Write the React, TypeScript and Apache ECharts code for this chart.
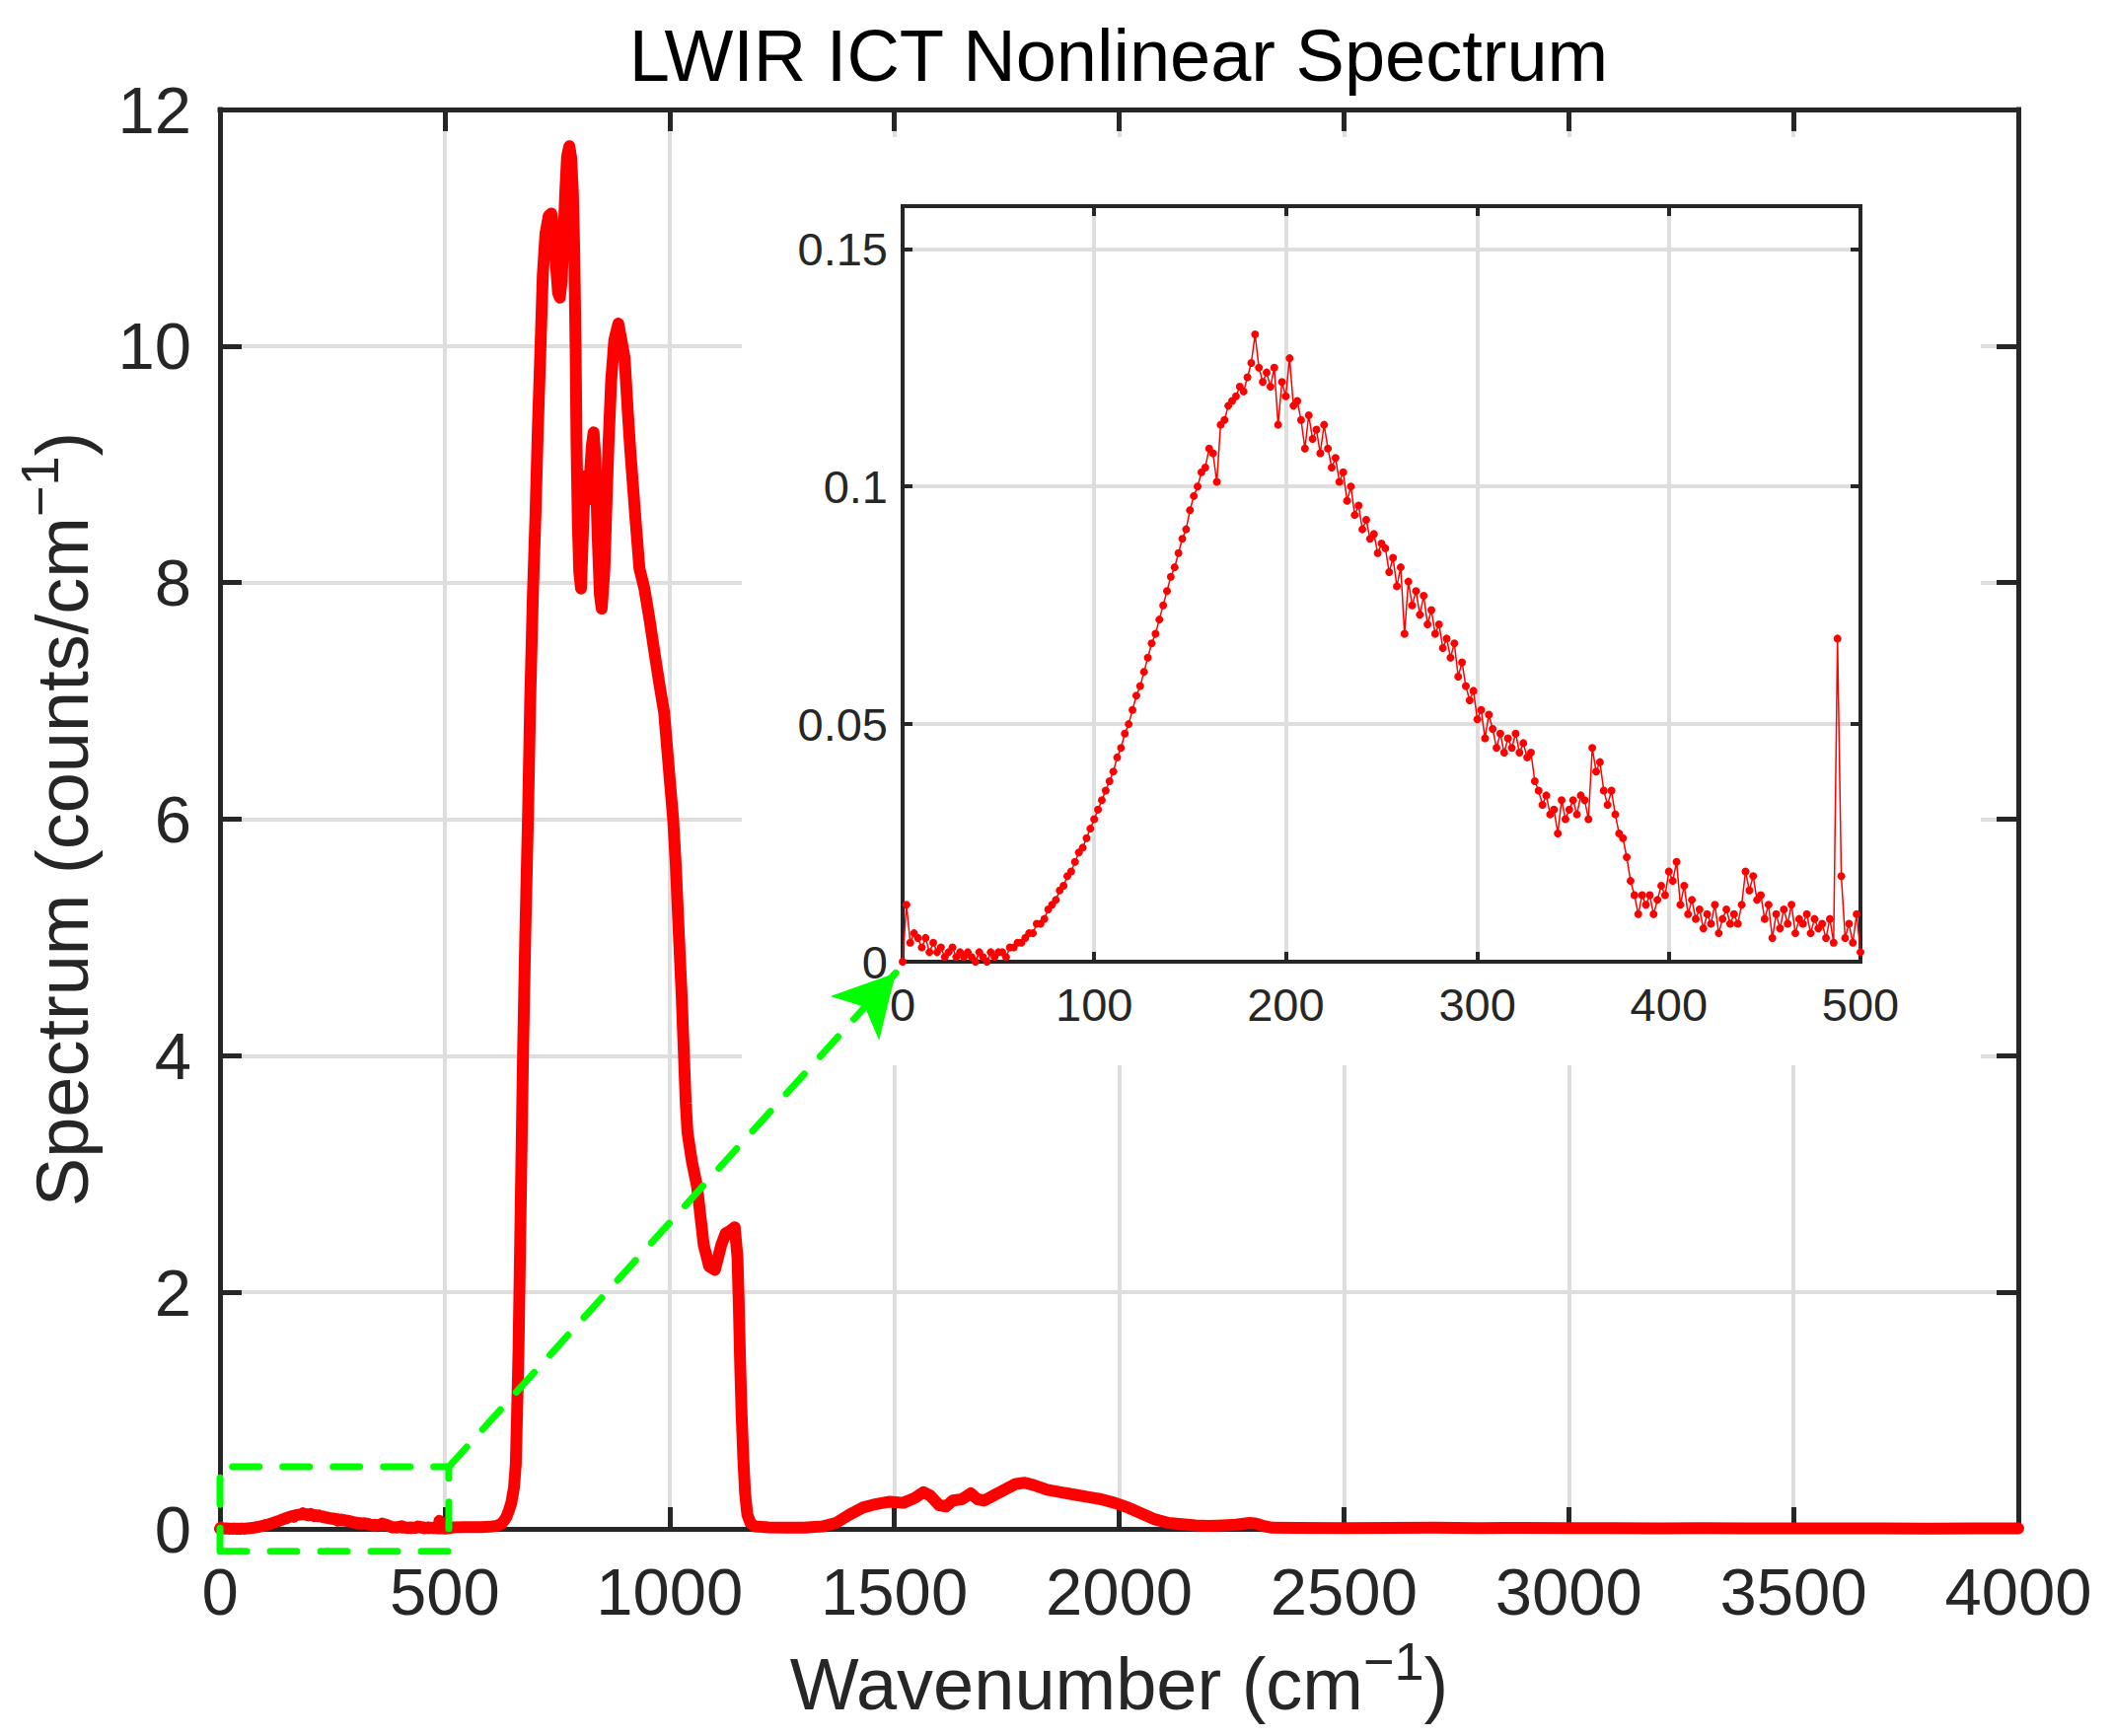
import React, { useEffect, useRef } from "react";
import * as echarts from "echarts";

// inset: spectrum below 500 cm-1, sampled every 2 cm-1
const insetStart = 0;
const insetStep = 2;
const insetSpectrum = [
  0.0, 0.012, 0.004, 0.006, 0.005, 0.003, 0.005, 0.002, 0.004, 0.002,
  0.003, 0.001, 0.002, 0.003, 0.001, 0.002, 0.001, 0.002, 0.001, 0.0,
  0.002, 0.001, 0.0, 0.002, 0.001, 0.002,
  0.002, 0.001, 0.003, 0.003, 0.004, 0.004, 0.005, 0.006, 0.006, 0.008,
  0.008, 0.009, 0.011, 0.012, 0.013, 0.015, 0.016, 0.018, 0.019, 0.021,
  0.023, 0.024, 0.026, 0.028, 0.03, 0.032, 0.034, 0.036, 0.038, 0.04,
  0.043, 0.045, 0.048, 0.05, 0.053, 0.056, 0.058, 0.061, 0.064, 0.067,
  0.069, 0.072, 0.075, 0.078, 0.081, 0.083, 0.086, 0.089, 0.091, 0.095,
  0.098, 0.1, 0.103, 0.104, 0.108, 0.107, 0.101, 0.113, 0.114, 0.117,
  0.118, 0.119, 0.121, 0.12, 0.123, 0.126, 0.132, 0.125, 0.122, 0.124,
  0.121, 0.125, 0.113, 0.122, 0.119, 0.127, 0.117, 0.118, 0.114, 0.108,
  0.115, 0.11, 0.112, 0.107, 0.113, 0.108, 0.104, 0.106, 0.101, 0.103,
  0.097, 0.1, 0.094, 0.096, 0.091, 0.093, 0.089, 0.09, 0.086, 0.088,
  0.087, 0.082, 0.085, 0.079, 0.083, 0.069, 0.08, 0.075, 0.078, 0.073,
  0.077, 0.071, 0.074, 0.069, 0.071, 0.066, 0.068, 0.064, 0.067, 0.06,
  0.063, 0.058, 0.055, 0.057, 0.051, 0.053, 0.047, 0.052, 0.049, 0.045,
  0.048, 0.044, 0.047, 0.045, 0.048, 0.044, 0.046, 0.043, 0.044, 0.038,
  0.036, 0.033, 0.035, 0.031, 0.032, 0.027, 0.034, 0.03, 0.032, 0.034,
  0.031, 0.035, 0.034, 0.03, 0.045, 0.04, 0.042, 0.036, 0.033, 0.036,
  0.031, 0.027, 0.026, 0.022, 0.017, 0.014, 0.01, 0.014, 0.012, 0.014,
  0.01, 0.013, 0.016, 0.014, 0.019, 0.017, 0.021, 0.012, 0.016, 0.01,
  0.013, 0.009, 0.011, 0.007, 0.01, 0.008, 0.012, 0.006, 0.009, 0.011,
  0.008, 0.01, 0.008, 0.012, 0.019, 0.015, 0.018, 0.013, 0.014, 0.009,
  0.012, 0.005, 0.01, 0.007, 0.011, 0.008, 0.012, 0.006, 0.009, 0.008,
  0.01, 0.006, 0.009, 0.007, 0.008, 0.005, 0.009, 0.004, 0.068, 0.018,
  0.005, 0.008, 0.004, 0.01, 0.002,
];

// rest of the spectrum above 500 cm-1: [wavenumber, counts/cm-1]
const mainTail = [
  [520, 0.012], [540, 0.014], [560, 0.015], [580, 0.015], [600, 0.018],
  [615, 0.025], [625, 0.04], [632, 0.07], [637, 0.1], [643, 0.16],
  [648, 0.22], [654, 0.35], [658, 0.55], [661, 1.0], [664, 1.5],
  [666, 2.0], [670, 3.0], [674, 4.0], [679, 5.0], [685, 6.0],
  [690, 7.0], [696, 7.9], [702, 8.6], [707, 9.3], [713, 10.0],
  [718, 10.6], [724, 10.95], [731, 11.1], [737, 11.12], [742, 11.0],
  [747, 10.7], [752, 10.45], [756, 10.41], [760, 10.55], [764, 10.9],
  [768, 11.3], [772, 11.6], [777, 11.69], [781, 11.6], [785, 11.3],
  [788, 10.8], [791, 10.0], [793, 9.2], [796, 8.5], [799, 8.1],
  [803, 7.95], [808, 8.5], [812, 8.9], [817, 8.7], [822, 8.85],
  [827, 9.15], [831, 9.27], [835, 9.05], [840, 8.4], [845, 7.9],
  [849, 7.78], [855, 8.1], [860, 8.7], [864, 9.15], [870, 9.7],
  [877, 10.05], [886, 10.19], [893, 10.05], [900, 9.9], [907, 9.45],
  [913, 9.1], [919, 8.8], [925, 8.5], [933, 8.12], [944, 7.95],
  [955, 7.7], [966, 7.42], [977, 7.15], [988, 6.9], [1001, 6.31],
  [1008, 6.0], [1014, 5.6], [1021, 5.0], [1027, 4.5], [1032, 4.0],
  [1036, 3.6], [1040, 3.35], [1050, 3.1], [1061, 2.9], [1070, 2.6],
  [1076, 2.4], [1088, 2.22], [1101, 2.19], [1115, 2.4], [1125, 2.5],
  [1135, 2.52], [1145, 2.55], [1151, 2.3], [1154, 1.9], [1157, 1.4],
  [1160, 1.0], [1164, 0.6], [1168, 0.3], [1173, 0.12], [1180, 0.05],
  [1190, 0.02], [1220, 0.012], [1260, 0.01], [1300, 0.01], [1340, 0.02],
  [1370, 0.05], [1400, 0.12], [1430, 0.18], [1460, 0.21], [1490, 0.23],
  [1520, 0.22], [1545, 0.26], [1565, 0.31], [1580, 0.28], [1600, 0.2],
  [1615, 0.19], [1630, 0.24], [1650, 0.25], [1670, 0.3], [1685, 0.25],
  [1700, 0.24], [1720, 0.28], [1745, 0.33], [1770, 0.38], [1790, 0.39],
  [1810, 0.37], [1840, 0.33], [1870, 0.31], [1900, 0.29], [1930, 0.27],
  [1960, 0.25], [1990, 0.22], [2020, 0.18], [2050, 0.13], [2080, 0.08],
  [2110, 0.05], [2140, 0.04], [2170, 0.03], [2200, 0.025], [2230, 0.03],
  [2260, 0.035], [2290, 0.05], [2305, 0.045], [2320, 0.025], [2340, 0.01],
  [2400, 0.008], [2500, 0.006], [2600, 0.009], [2700, 0.01], [2800, 0.007],
  [2900, 0.008], [3000, 0.006], [3100, 0.007], [3200, 0.005], [3300, 0.006],
  [3400, 0.004], [3500, 0.005], [3600, 0.004], [3700, 0.005], [3800, 0.003],
  [3900, 0.004], [4000, 0.004],
];

const mainXTicks = [0, 500, 1000, 1500, 2000, 2500, 3000, 3500, 4000];
const mainYTicks = [0, 2, 4, 6, 8, 10, 12];
const insetXTicks = [0, 100, 200, 300, 400, 500];
const insetYTicks = [0, 0.05, 0.1, 0.15];
const insetYMax = 0.159;

// green zoom box (main data coords) and the arrow tip at the inset origin
const zoomBox = { x0: 0, x1: 509, y0: -0.19, y1: 0.525 };
const arrowEnd = [1503, 4.7];

const FONT = '"Liberation Sans", Arial, Helvetica, sans-serif';
const INK = "#262626";
const GRID = "#dedede";
const RED = "#ff0000";
const GREEN = "#00ff00";

const span = (t: number[]) => ({ min: t[0], max: t[t.length - 1], interval: t[1] - t[0] });
const plain = (v: number) => (v === 0 ? "0" : String(+v.toFixed(2)));

const frameAxis = (o: any) => ({
  type: "value",
  gridIndex: o.grid,
  position: o.position,
  min: o.min,
  max: o.max,
  interval: o.interval,
  z: o.z,
  axisLine: { show: true, onZero: false, lineStyle: { color: INK, width: o.lw, cap: "square" } },
  axisTick: { show: true, inside: true, length: o.tick, lineStyle: { color: INK, width: o.lw } },
  axisLabel: o.labels
    ? {
        show: true,
        fontSize: o.fontSize,
        fontFamily: FONT,
        color: INK,
        margin: o.margin,
        showMinLabel: true,
        showMaxLabel: o.showMax !== false,
        formatter: plain,
      }
    : { show: false },
  splitLine: { show: !!o.labels, lineStyle: { color: GRID, width: o.gw } },
});

const nameRich = {
  t: { fontSize: 74, lineHeight: 100, fontFamily: FONT, color: INK },
  s: { fontSize: 54, lineHeight: 46, verticalAlign: "top", fontFamily: FONT, color: INK },
};

const App: React.FC = () => {
  const chartRef = useRef<HTMLDivElement | null>(null);

  useEffect(() => {
    if (!chartRef.current) return;
    const chart = echarts.init(chartRef.current, null, { renderer: "svg" });

    const insetData = insetSpectrum.map((v, i) => [insetStart + i * insetStep, v]);
    const mainData = insetData.concat(mainTail);
    const { x0, x1, y0, y1 } = zoomBox;
    const boxPath = [[x0, y0], [x1, y0], [x1, y1], [x0, y1], [x0, y0]];

    const mx = span(mainXTicks);
    const my = span(mainYTicks);
    const ix = span(insetXTicks);
    const iy = { min: insetYTicks[0], max: insetYMax, interval: insetYTicks[1] - insetYTicks[0] };

    const mainCommon = { lw: 5, tick: 22, gw: 4, z: 0 };
    const insetCommon = { lw: 4, tick: 10, gw: 4, z: 5 };
    const greenDash = { color: GREEN, width: 7, type: [27, 24], cap: "round" };

    const options = {
      animation: false,
      backgroundColor: "#ffffff",
      textStyle: { fontFamily: FONT },
      grid: [
        { left: 223, top: 111, width: 1823, height: 1439, outerBoundsMode: "none", containLabel: false },
        { left: 915, top: 209, width: 971, height: 766, outerBoundsMode: "none", containLabel: false },
      ],
      xAxis: [
        {
          ...frameAxis({ grid: 0, position: "bottom", ...mx, ...mainCommon, labels: true, fontSize: 67, margin: 30 }),
          name: "{t|Wavenumber (cm}{s|\u22121}{t|)}",
          nameLocation: "middle",
          nameGap: 107,
          nameMoveOverlap: false,
          nameTextStyle: { rich: nameRich },
        },
        frameAxis({ grid: 0, position: "top", ...mx, ...mainCommon, labels: false }),
        frameAxis({ grid: 1, position: "bottom", ...ix, ...insetCommon, labels: true, fontSize: 47, margin: 20 }),
        frameAxis({ grid: 1, position: "top", ...ix, ...insetCommon, labels: false }),
      ],
      yAxis: [
        {
          ...frameAxis({ grid: 0, position: "left", ...my, ...mainCommon, labels: true, fontSize: 67, margin: 29 }),
          name: "{t|Spectrum (counts/cm}{s|\u22121}{t|)}",
          nameLocation: "middle",
          nameRotate: 90,
          nameGap: 110,
          nameMoveOverlap: false,
          nameTextStyle: { rich: nameRich },
        },
        frameAxis({ grid: 0, position: "right", ...my, ...mainCommon, labels: false }),
        frameAxis({
          grid: 1,
          position: "left",
          ...iy,
          ...insetCommon,
          labels: true,
          fontSize: 47,
          margin: 15,
          showMax: false,
        }),
        frameAxis({ grid: 1, position: "right", ...iy, ...insetCommon, labels: false }),
      ],
      graphic: [
        {
          type: "text",
          x: 1134,
          y: 56,
          z: 20,
          style: {
            text: "LWIR ICT Nonlinear Spectrum",
            fontSize: 74,
            fontFamily: FONT,
            fill: "#000000",
            textAlign: "center",
            textVerticalAlign: "middle",
            align: "center",
            verticalAlign: "middle",
          },
        },
        {
          // white backdrop of the inset axes
          type: "rect",
          z: 1,
          shape: { x: 752, y: 139, width: 1256, height: 941 },
          style: { fill: "#ffffff" },
        },
      ],
      series: [
        {
          name: "spectrum",
          type: "line",
          xAxisIndex: 0,
          yAxisIndex: 0,
          data: mainData,
          showSymbol: false,
          z: 2,
          lineStyle: { color: RED, width: 12, join: "round", cap: "round" },
        },
        {
          name: "zoom box",
          type: "line",
          xAxisIndex: 0,
          yAxisIndex: 0,
          data: boxPath,
          showSymbol: false,
          clip: false,
          z: 10,
          silent: true,
          lineStyle: greenDash,
          markLine: {
            silent: true,
            symbol: ["none", "arrow"],
            symbolSize: [50, 62],
            label: { show: false },
            emphasis: { disabled: true },
            lineStyle: greenDash,
            itemStyle: { color: GREEN },
            data: [[{ coord: [x1, y1] }, { coord: arrowEnd }]],
          },
        },
        {
          name: "inset",
          type: "line",
          xAxisIndex: 2,
          yAxisIndex: 2,
          data: insetData,
          showSymbol: true,
          symbol: "circle",
          symbolSize: 8,
          clip: false,
          z: 6,
          itemStyle: { color: RED },
          lineStyle: { color: RED, width: 1.5 },
        },
      ],
    };

    chart.setOption(options as any);

    return () => {
      chart.dispose();
    };
  }, []);

  return (
    <div
      ref={chartRef}
      style={{ position: "absolute", left: 0, top: 0, width: 2142, height: 1760, background: "#fff" }}
    />
  );
};

export default App;
